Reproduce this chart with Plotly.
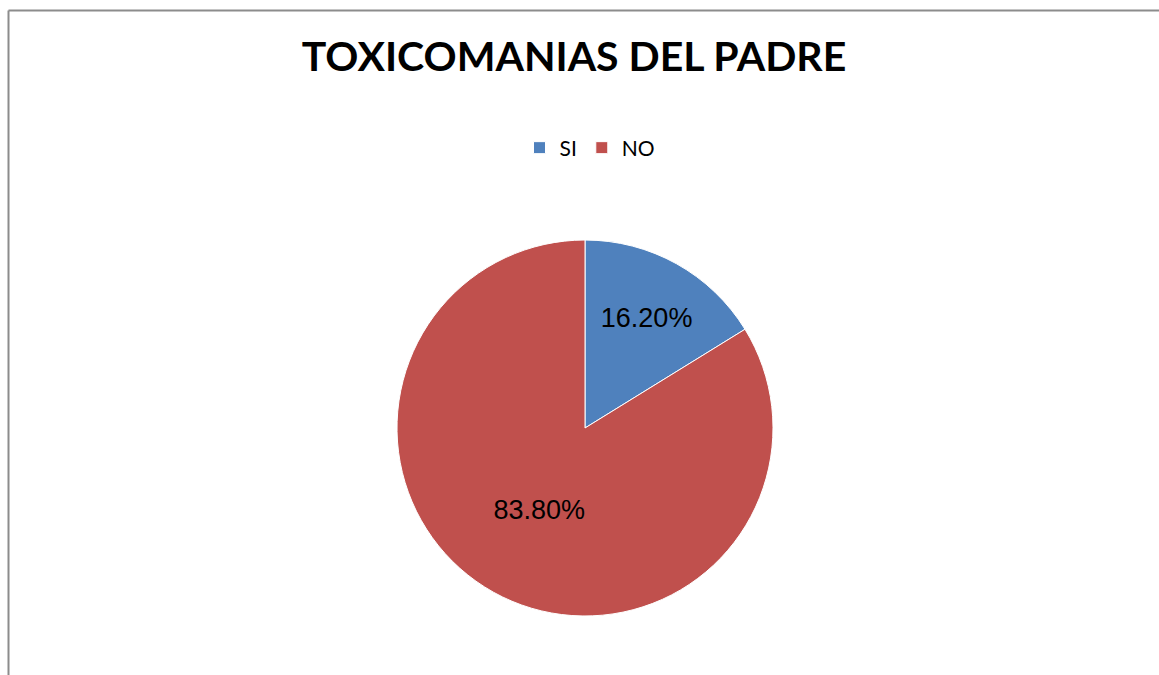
import plotly.graph_objects as go

# Data
categories = ["SI", "NO"]
values = [16.20, 83.80]
colors = ["#4F81BD", "#C0504D"]

W, H = 1159, 675

labels_text = [f"{v:.2f}%" for v in values]

fig = go.Figure(
    go.Pie(
        labels=categories,
        values=values,
        text=labels_text,
        textinfo="text",
        textposition="inside",
        insidetextorientation="horizontal",
        textfont=dict(family="Liberation Sans, Arial, sans-serif", size=27, color="#000000"),
        marker=dict(colors=colors, line=dict(color="#FFFFFF", width=1)),
        sort=False,
        direction="clockwise",
        rotation=0,
        hoverinfo="label+percent",
        domain=dict(x=[(585 - 188) / W, (585 + 188) / W],
                    y=[1 - (428 + 188) / H, 1 - (428 - 188) / H]),
    )
)

fig.update_layout(
    width=W,
    height=H,
    margin=dict(l=0, r=0, t=0, b=0),
    paper_bgcolor="#FFFFFF",
    plot_bgcolor="#FFFFFF",
    title=dict(
        text="<b>TOXICOMANIAS DEL PADRE</b>",
        x=574 / W,
        xanchor="center",
        y=1 - 57 / H,
        yanchor="middle",
        font=dict(family="Lato, Open Sans, sans-serif", size=41, color="#000000"),
    ),
    showlegend=True,
    legend=dict(
        orientation="h",
        x=590 / W,
        xanchor="center",
        y=1 - 148 / H,
        yanchor="middle",
        font=dict(family="Lato, Open Sans, sans-serif", size=21, color="#000000"),
        itemwidth=30,
        traceorder="normal",
    ),
    shapes=[
        dict(type="line", xref="paper", yref="paper",
             x0=8.5 / W, x1=1.0, y0=1 - 10.5 / H, y1=1 - 10.5 / H,
             line=dict(color="#8C8C8C", width=2)),
        dict(type="line", xref="paper", yref="paper",
             x0=8.5 / W, x1=8.5 / W, y0=1 - 10.5 / H, y1=0,
             line=dict(color="#8C8C8C", width=2)),
    ],
)

fig.write_html("out.html")
